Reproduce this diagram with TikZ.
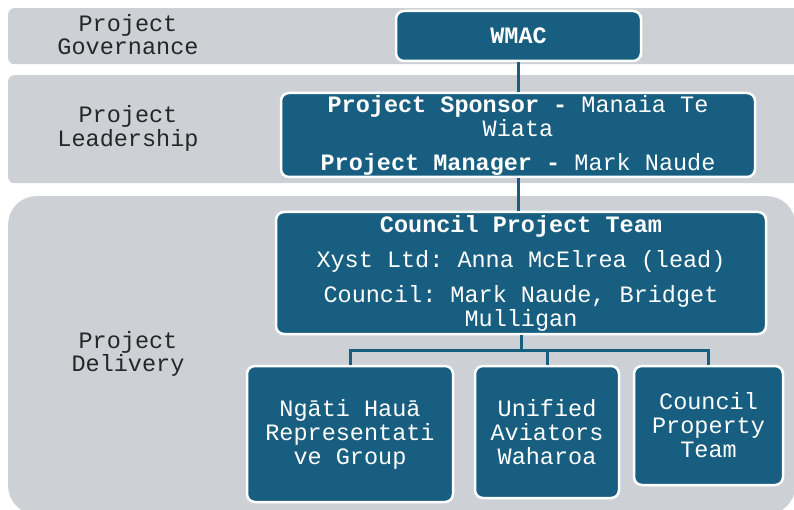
\documentclass[tikz,border=0pt]{standalone}
\usepackage{fontspec}
\setmainfont{Liberation Mono}
\usepackage{tikz}
\definecolor{bandgray}{RGB}{205,209,214}
\definecolor{teamblue}{RGB}{23,94,128}
\tikzstyle{Band}=[rectangle, rounded corners=6, fill=bandgray, anchor=north west, inner sep=0]
\tikzstyle{Tier}=[text width=170, align=center, text=black!85, font=\fontsize{23.5}{23.5}\selectfont]
\tikzstyle{Team}=[rectangle, rounded corners=8, fill=teamblue, draw=white, line width=2.5, text=white, inner sep=0, align=center, font=\fontsize{23.5}{24}\selectfont,
    execute at begin node={\spaceskip=14.1pt\relax\xspaceskip=14.1pt\relax}]
\tikzstyle{Link}=[draw=teamblue, line width=3]

\begin{document}
\begin{tikzpicture}[x=1pt, y=-1pt]
    \useasboundingbox (0,0) rectangle (794,510);
    \clip (0,0) rectangle (794,510);
    \path
    (8,8) node[Band, minimum width=800, minimum height=56] (govband) {}
    (8,75) node[Band, minimum width=800, minimum height=108] (leadband) {}
    (8,196) node[Band, rounded corners=28, minimum width=787, minimum height=318] (delband) {};
    \path
    (128,34.5) node[Tier] (govlabel) {Project\\Governance}
    (128,128.5) node[Tier] (leadlabel) {Project\\Leadership}
    (128,354) node[Tier] (dellabel) {Project\\Delivery};

    \path
    (518.5,36) node[Team, minimum width=245, minimum height=50, text width=235] (wmac) {\textbf{WMAC}}
    (518,135) node[Team, minimum width=474, minimum height=84, text width=464] (lead)
        {\textbf{Project Sponsor -} Manaia Te\\Wiata\\[10pt]\textbf{Project Manager -} Mark Naude}
    (521,273) node[Team, minimum width=490, minimum height=122, text width=480] (cpt)
        {\textbf{Council Project Team}\\[11pt]Xyst Ltd: Anna McElrea (lead)\\[11pt]Council: Mark Naude, Bridget\\Mulligan}
    (350,434) node[Team, minimum width=206, minimum height=136, text width=196] (ngati) {Ngāti Hauā\\Representati\\ve Group}
    (547,432) node[Team, minimum width=144, minimum height=132, text width=136] (unified) {Unified\\Aviators\\Waharoa}
    (708.5,425.5) node[Team, minimum width=149, minimum height=119, text width=140] (property) {Council\\Property\\Team};

    \coordinate (bus) at (521,350);
    \draw[Link] (wmac.south) -- (wmac.south |- lead.north);
    \draw[Link] (lead.south) -- (lead.south |- cpt.north);
    \draw[Link] (cpt.south) -- (bus);
    \draw[Link] (ngati.north) |- (bus) -| (property.north);
    \draw[Link] (unified.north) -- (unified.north |- bus);
\end{tikzpicture}
\end{document}
